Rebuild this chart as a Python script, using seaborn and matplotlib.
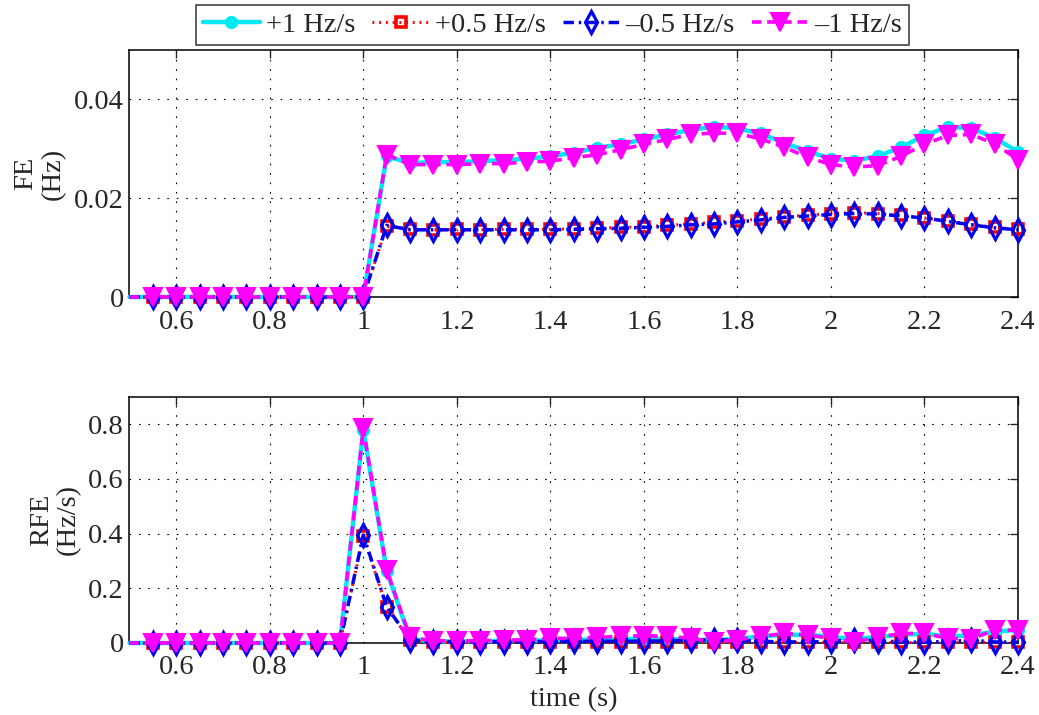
import numpy as np
import pandas as pd
import matplotlib
matplotlib.use("Agg")
import matplotlib.pyplot as plt
import seaborn as sns

# ---------------- data ----------------
time_s = [0.50, 0.55, 0.60, 0.65, 0.70, 0.75, 0.80, 0.85, 0.90, 0.95,
          1.00, 1.05, 1.10, 1.15, 1.20, 1.25, 1.30, 1.35, 1.40, 1.45,
          1.50, 1.55, 1.60, 1.65, 1.70, 1.75, 1.80, 1.85, 1.90, 1.95,
          2.00, 2.05, 2.10, 2.15, 2.20, 2.25, 2.30, 2.35, 2.40]

series_labels = ["+1 Hz/s", "+0.5 Hz/s", "\u20130.5 Hz/s", "\u20131 Hz/s"]

fe_p1 = [0, 0, 0, 0, 0, 0, 0, 0, 0, 0, 0,
         0.0285, 0.0271, 0.0273, 0.0273, 0.0275, 0.0277, 0.0280, 0.0285, 0.0292,
         0.0302, 0.0309, 0.0319, 0.0329, 0.0338, 0.0345, 0.0341, 0.0331, 0.0312,
         0.0295, 0.0280, 0.0276, 0.0285, 0.0303, 0.0327, 0.0344, 0.0342, 0.0322, 0.0294]
fe_p05 = [0, 0, 0, 0, 0, 0, 0, 0, 0, 0, 0,
          0.0143, 0.0137, 0.0136, 0.0137, 0.0136, 0.0137, 0.0137, 0.0137, 0.0138,
          0.0139, 0.0141, 0.0142, 0.0145, 0.0148, 0.0151, 0.0154, 0.0158, 0.0162,
          0.0166, 0.0169, 0.0171, 0.0169, 0.0165, 0.0160, 0.0154, 0.0147, 0.0141, 0.0137]
fe_m05 = [0, 0, 0, 0, 0, 0, 0, 0, 0, 0, 0,
          0.0145, 0.0136, 0.0136, 0.0136, 0.0136, 0.0136, 0.0136, 0.0136, 0.0137,
          0.0138, 0.0139, 0.0141, 0.0143, 0.0146, 0.0148, 0.0152, 0.0156, 0.0161,
          0.0164, 0.0167, 0.0169, 0.0168, 0.0164, 0.0160, 0.0153, 0.0146, 0.0140, 0.0136]
fe_m1 = [0, 0, 0, 0, 0, 0, 0, 0, 0, 0, 0,
         0.0288, 0.0268, 0.0268, 0.0268, 0.0270, 0.0270, 0.0273, 0.0275, 0.0282,
         0.0288, 0.0298, 0.0309, 0.0319, 0.0329, 0.0332, 0.0331, 0.0320, 0.0303,
         0.0283, 0.0268, 0.0263, 0.0266, 0.0285, 0.0309, 0.0327, 0.0329, 0.0310, 0.0278]

rfe_p1 = [0, 0, 0, 0, 0, 0, 0, 0, 0, 0,
          0.780, 0.265, 0.015,
          0.006, 0.006, 0.007, 0.008, 0.009, 0.010, 0.012, 0.013, 0.014, 0.015,
          0.015, 0.012, 0.010, 0.015, 0.024, 0.030, 0.030, 0.022, 0.015, 0.022,
          0.030, 0.034, 0.024, 0.028, 0.042, 0.048]
rfe_p05 = [0, 0, 0, 0, 0, 0, 0, 0, 0, 0,
           0.390, 0.130, 0.010,
           0.002, 0.002, 0.002, 0.002, 0.002, 0.002, 0.002, 0.002, 0.002, 0.002,
           0.002, 0.003, 0.003, 0.003, 0.002, 0.002, 0.002, 0.002, 0.003, 0.002,
           0.002, 0.002, 0.002, 0.003, 0.002, 0.002]
rfe_m05 = [0, 0, 0, 0, 0, 0, 0, 0, 0, 0,
           0.395, 0.133, 0.012,
           0.004, 0.004, 0.004, 0.005, 0.005, 0.006, 0.006, 0.007, 0.006, 0.007,
           0.008, 0.010, 0.012, 0.010, 0.006, 0.004, 0.004, 0.006, 0.012, 0.008,
           0.004, 0.003, 0.006, 0.010, 0.004, 0.003]
rfe_m1 = [0, 0, 0, 0, 0, 0, 0, 0, 0, 0,
          0.785, 0.267, 0.021,
          0.008, 0.008, 0.008, 0.010, 0.012, 0.017, 0.017, 0.021, 0.024, 0.027,
          0.024, 0.018, 0.003, 0.012, 0.024, 0.035, 0.029, 0.017, 0.003, 0.021,
          0.035, 0.035, 0.017, 0.015, 0.047, 0.047]

x_ticks = [0.6, 0.8, 1.0, 1.2, 1.4, 1.6, 1.8, 2.0, 2.2, 2.4]
x_tick_labels = ["0.6", "0.8", "1", "1.2", "1.4", "1.6", "1.8", "2", "2.2", "2.4"]
fe_ticks = [0, 0.02, 0.04]
fe_tick_labels = ["0", "0.02", "0.04"]
rfe_ticks = [0, 0.2, 0.4, 0.6, 0.8]
rfe_tick_labels = ["0", "0.2", "0.4", "0.6", "0.8"]

# ---------------- style ----------------
sns.set_style("white")
plt.rcParams["font.family"] = ["Liberation Serif", "DejaVu Serif"]
FS = 20.5

styles = [
    dict(color="#00e8f0", lw=3.2, ls="-", marker="o", ms=8,
         mfc="#00e8f0", mec="#00e8f0", mew=1.5),
    dict(color="red", lw=2.2, ls=(0, (0.6, 1.6)), marker="s", ms=7.5,
         mfc="none", mec="red", mew=2.6),
    dict(color="#0000ee", lw=2.5, ls=(0, (3.0, 1.4, 0.7, 1.4)), marker="d", ms=11,
         mfc="none", mec="#0000ee", mew=2.3),
    dict(color="#ff00ff", lw=2.6, ls=(0, (2.6, 1.6)), marker="v", ms=12.5,
         mfc="#ff00ff", mec="#ff00ff", mew=1.5),
]

fig = plt.figure(figsize=(10.39, 7.15), dpi=100)
ax1 = fig.add_axes([0.1246, 0.5846, 0.8552, 0.3455])
ax2 = fig.add_axes([0.1246, 0.1007, 0.8552, 0.3441])

fe_series = [fe_p1, fe_p05, fe_m05, fe_m1]
rfe_series = [rfe_p1, rfe_p05, rfe_m05, rfe_m1]

for ax, series in ((ax1, fe_series), (ax2, rfe_series)):
    for k, (vals, st, lab) in enumerate(zip(series, styles, series_labels)):
        df = pd.DataFrame({"t": time_s, "v": vals})
        sns.lineplot(data=df, x="t", y="v", ax=ax, legend=False, label=lab,
                     color=st["color"], linewidth=st["lw"], linestyle=st["ls"],
                     marker=st["marker"], markersize=st["ms"],
                     markerfacecolor=st["mfc"], markeredgecolor=st["mec"],
                     markeredgewidth=st["mew"], markevery=slice(1, None),
                     clip_on=False, zorder=4 + k)

for ax in (ax1, ax2):
    ax.set_xlim(0.5, 2.4)
    ax.set_xticks(x_ticks)
    ax.set_xticklabels(x_tick_labels)
    ax.grid(True, color="k", linestyle=(0, (1.5, 7)), linewidth=0.8)
    ax.tick_params(direction="in", length=6, width=1, labelsize=FS,
                   top=True, right=True)
    ax.tick_params(axis="x", pad=9)
    ax.tick_params(axis="y", pad=4)
    for sp in ax.spines.values():
        sp.set_visible(True)
        sp.set_color("black")
        sp.set_linewidth(1.1)
    ax.set_xlabel("")

ax1.set_ylim(0, 0.05)
ax1.set_yticks(fe_ticks)
ax1.set_yticklabels(fe_tick_labels)
ax1.set_ylabel("FE\n(Hz)", fontsize=FS, linespacing=1.1)
ax1.yaxis.set_label_coords(-0.072, 0.5)

ax2.set_ylim(0, 0.9)
ax2.set_yticks(rfe_ticks)
ax2.set_yticklabels(rfe_tick_labels)
ax2.set_ylabel("RFE\n(Hz/s)", fontsize=FS, linespacing=1.1)
ax2.yaxis.set_label_coords(-0.055, 0.5)
ax2.set_xlabel("time (s)", fontsize=FS, labelpad=5)

handles, labels = ax1.get_legend_handles_labels()
leg = fig.legend(handles, labels, loc="center", bbox_to_anchor=(0.5318, 0.965),
                 ncol=4, fontsize=FS, frameon=True, fancybox=False,
                 handlelength=2.0, handletextpad=0.2, columnspacing=0.6,
                 borderpad=0.25, borderaxespad=0)
leg.get_frame().set_edgecolor("black")
leg.get_frame().set_linewidth(1.1)

fig.savefig("out.png", dpi=100)
